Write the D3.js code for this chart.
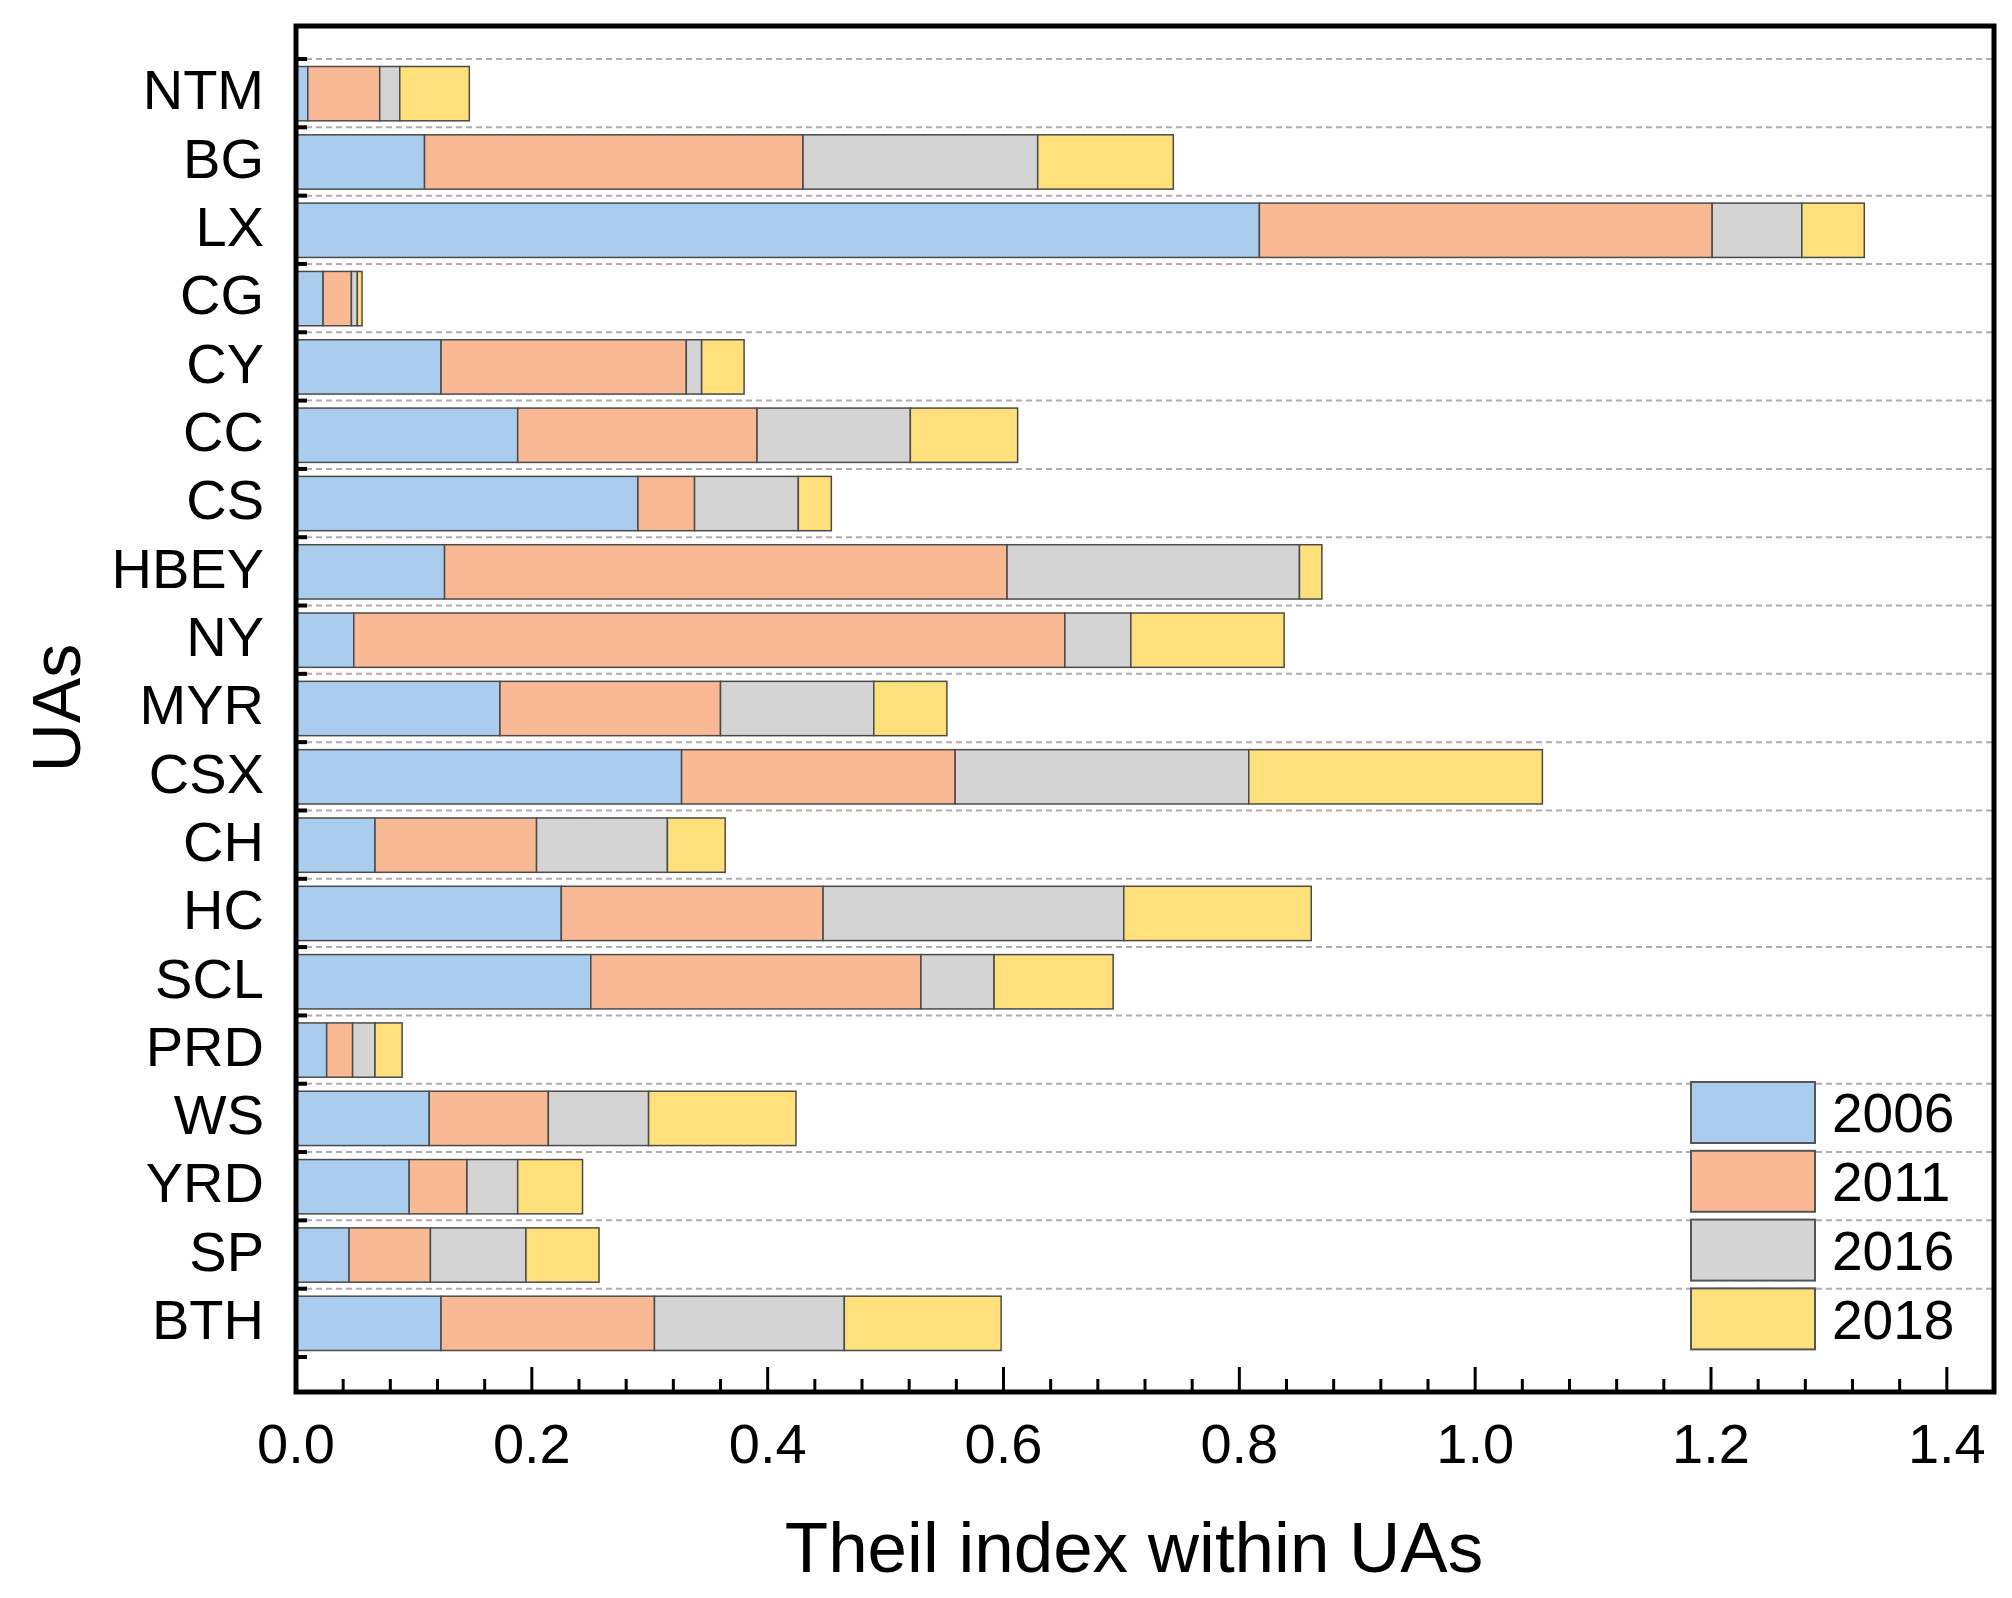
<!DOCTYPE html>
<html>
<head>
<meta charset="utf-8">
<script src="https://cdn.jsdelivr.net/npm/d3@7"></script>
<style>
  body { margin: 0; background: #fff; }
  svg { display: block; font-family: "Liberation Sans", Arial, sans-serif; }
</style>
</head>
<body>
<svg id="chart" width="2012" height="1598"></svg>
<script>
// data (top row first)
const categories = ['NTM', 'BG', 'LX', 'CG', 'CY', 'CC', 'CS', 'HBEY', 'NY', 'MYR',
  'CSX', 'CH', 'HC', 'SCL', 'PRD', 'WS', 'YRD', 'SP', 'BTH'];
const years = ['2006', '2011', '2016', '2018'];
const v2006 = [0.010, 0.109, 0.817, 0.023, 0.123, 0.188, 0.290, 0.126, 0.049, 0.173,
  0.327, 0.067, 0.225, 0.250, 0.026, 0.113, 0.096, 0.045, 0.123];
const v2011 = [0.061, 0.321, 0.384, 0.024, 0.208, 0.203, 0.048, 0.477, 0.603, 0.187,
  0.232, 0.137, 0.222, 0.280, 0.022, 0.101, 0.049, 0.069, 0.181];
const v2016 = [0.017, 0.199, 0.076, 0.005, 0.013, 0.130, 0.088, 0.248, 0.056, 0.130,
  0.249, 0.111, 0.255, 0.062, 0.019, 0.085, 0.043, 0.081, 0.161];
const v2018 = [0.059, 0.115, 0.053, 0.004, 0.036, 0.091, 0.028, 0.019, 0.130, 0.062,
  0.249, 0.049, 0.159, 0.101, 0.023, 0.125, 0.055, 0.062, 0.133];
const xTicks = [0, 0.2, 0.4, 0.6, 0.8, 1.0, 1.2, 1.4];

const colors = ['#aacdee', '#f9b994', '#d4d4d4', '#ffe07b'];

const rows = categories.map((c, i) => ({
  ua: c, '2006': v2006[i], '2011': v2011[i], '2016': v2016[i], '2018': v2018[i]
}));

const svg = d3.select('#chart');
const frame = {left: 296, right: 1994, top: 26, bottom: 1392};

const x = d3.scaleLinear().domain([0, 1.44]).range([frame.left, frame.right]);
const y = d3.scaleBand().domain(categories).range([59, 1357]).padding(0);
const color = d3.scaleOrdinal().domain(years).range(colors);

// dashed grid at the top edge of each band
svg.append('g')
  .selectAll('line')
  .data(categories)
  .enter().append('line')
    .attr('x1', frame.left).attr('x2', frame.right)
    .attr('y1', d => y(d)).attr('y2', d => y(d))
    .attr('stroke', '#b3a9b3')
    .attr('stroke-width', 2)
    .attr('stroke-dasharray', '6,4');

// stacked bars
const stacked = d3.stack().keys(years)(rows);
const barPad = 7.5;
svg.append('g')
  .selectAll('g')
  .data(stacked)
  .enter().append('g')
    .attr('fill', d => color(d.key))
  .selectAll('rect')
  .data(d => d)
  .enter().append('rect')
    .attr('x', d => x(d[0]))
    .attr('y', d => y(d.data.ua) + barPad)
    .attr('width', d => x(d[1]) - x(d[0]))
    .attr('height', y.bandwidth() - 2 * barPad + 1)
    .attr('stroke', '#4a4a4a')
    .attr('stroke-width', 1.5);

// y axis: labels and little ticks at band edges
const bandEdges = categories.map(c => y(c)).concat([y.range()[1]]);
svg.append('g')
  .selectAll('line')
  .data(bandEdges)
  .enter().append('line')
    .attr('x1', frame.left).attr('x2', frame.left + 11)
    .attr('y1', d => d).attr('y2', d => d)
    .attr('stroke', '#000')
    .attr('stroke-width', 4);

svg.append('g')
  .selectAll('text')
  .data(categories)
  .enter().append('text')
    .attr('x', frame.left - 32)
    .attr('y', d => y(d) + y.bandwidth() / 2)
    .attr('dy', '0.29em')
    .attr('text-anchor', 'end')
    .attr('font-size', 56)
    .attr('fill', '#000')
    .text(d => d);

// x axis ticks, pointing inward
const minor = d3.range(0, 1.44, 0.04).filter(t => xTicks.every(m => Math.abs(m - t) > 1e-6));
svg.append('g')
  .selectAll('line')
  .data(minor)
  .enter().append('line')
    .attr('x1', d => x(d)).attr('x2', d => x(d))
    .attr('y1', frame.bottom).attr('y2', frame.bottom - 13)
    .attr('stroke', '#000').attr('stroke-width', 3);
svg.append('g')
  .selectAll('line')
  .data(xTicks)
  .enter().append('line')
    .attr('x1', d => x(d)).attr('x2', d => x(d))
    .attr('y1', frame.bottom).attr('y2', frame.bottom - 25)
    .attr('stroke', '#000').attr('stroke-width', 3);

svg.append('g')
  .selectAll('text')
  .data(xTicks)
  .enter().append('text')
    .attr('x', d => x(d))
    .attr('y', 1463)
    .attr('text-anchor', 'middle')
    .attr('font-size', 56)
    .text(d3.format('.1f'));

// frame
svg.append('rect')
  .attr('x', frame.left).attr('y', frame.top)
  .attr('width', frame.right - frame.left)
  .attr('height', frame.bottom - frame.top)
  .attr('fill', 'none')
  .attr('stroke', '#000')
  .attr('stroke-width', 5);

// axis titles
svg.append('text')
  .attr('x', 1134).attr('y', 1572)
  .attr('text-anchor', 'middle')
  .attr('font-size', 71)
  .text('Theil index within UAs');

svg.append('text')
  .attr('transform', 'translate(80,708) rotate(-90)')
  .attr('text-anchor', 'middle')
  .attr('font-size', 68)
  .text('UAs');

// legend
const legend = svg.append('g')
  .selectAll('g')
  .data(years)
  .enter().append('g')
    .attr('transform', (d, i) => `translate(1691,${1082 + i * 68.8})`);
legend.append('rect')
  .attr('width', 124).attr('height', 61)
  .attr('fill', d => color(d))
  .attr('stroke', '#555').attr('stroke-width', 2);
legend.append('text')
  .attr('x', 141).attr('y', 30.5)
  .attr('dy', '0.36em')
  .attr('font-size', 55)
  .text(d => d);
</script>
</body>
</html>
